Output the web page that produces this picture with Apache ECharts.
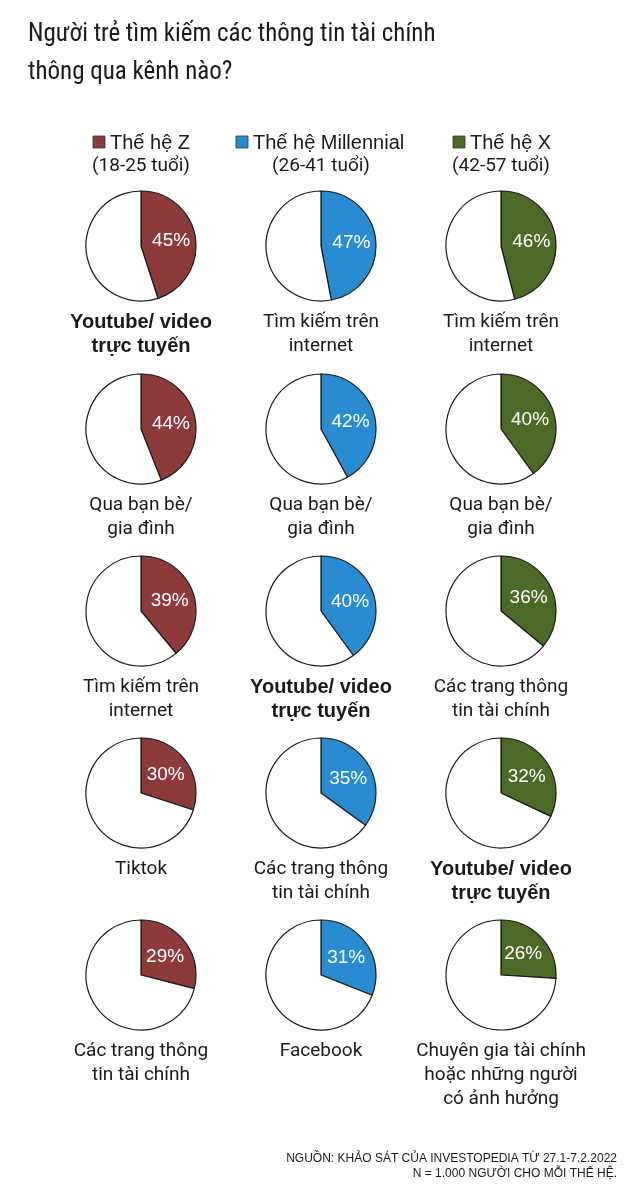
<!DOCTYPE html>
<html>
<head>
<meta charset="utf-8">
<script src="https://cdn.jsdelivr.net/npm/echarts@6/dist/echarts.min.js"></script>
<style>
html,body{margin:0;padding:0;background:#fff;}
#c{width:644px;height:1184px;}
</style>
</head>
<body>
<div id="c"></div>
<script>
const generations = ['Thế hệ Z', 'Thế hệ Millennial', 'Thế hệ X'];
const ageRanges = ['(18-25 tuổi)', '(26-41 tuổi)', '(42-57 tuổi)'];
const colors = ['#8c3a3a', '#2a8cd0', '#4b6a26'];

const genZCategories = ['Youtube/ video\ntrực tuyến', 'Qua bạn bè/\ngia đình', 'Tìm kiếm trên\ninternet', 'Tiktok', 'Các trang thông\ntin tài chính'];
const genZValues = [45, 44, 39, 30, 29];

const millennialCategories = ['Tìm kiếm trên\ninternet', 'Qua bạn bè/\ngia đình', 'Youtube/ video\ntrực tuyến', 'Các trang thông\ntin tài chính', 'Facebook'];
const millennialValues = [47, 42, 40, 35, 31];

const genXCategories = ['Tìm kiếm trên\ninternet', 'Qua bạn bè/\ngia đình', 'Các trang thông\ntin tài chính', 'Youtube/ video\ntrực tuyến', 'Chuyên gia tài chính\nhoặc những người\ncó ảnh hưởng'];
const genXValues = [46, 40, 36, 32, 26];

const highlightCategory = 'Youtube/ video\ntrực tuyến';

const titleText = 'Người trẻ tìm kiếm các thông tin tài chính\nthông qua kênh nào?';
const sourceText = 'NGUỒN: KHẢO SÁT CỦA INVESTOPEDIA TỪ 27.1-7.2.2022\nN = 1.000 NGƯỜI CHO MỖI THẾ HỆ.';

const FONT = 'Roboto, "Liberation Sans", sans-serif';
const FONT2 = '"Liberation Sans", Arial, sans-serif';
const FONTN = '"Liberation Sans Narrow", "Roboto Condensed", Roboto, sans-serif';
const colX = [141, 321, 501];
const rowY = [246, 429, 611, 793, 975];
const R = 55;

const allCats = [genZCategories, millennialCategories, genXCategories];
const allVals = [genZValues, millennialValues, genXValues];

const series = [];
const graphics = [];

for (let c = 0; c < 3; c++) {
  for (let r = 0; r < 5; r++) {
    const v = allVals[c][r];
    series.push({
      type: 'pie',
      name: allCats[c][r],
      center: [colX[c], rowY[r]],
      radius: R,
      startAngle: 90,
      clockwise: true,
      silent: true,
      animation: false,
      label: {
        show: true,
        position: 'inside',
        formatter: '{c}%',
        color: '#fff',
        fontFamily: FONT2,
        fontSize: 19
      },
      labelLine: {show: false},
      emphasis: {disabled: true},
      itemStyle: {borderColor: '#1a1a1a', borderWidth: 1.2},
      data: [
        {name: allCats[c][r], value: v, itemStyle: {color: colors[c]}},
        {name: 'rest', value: 100 - v, itemStyle: {color: '#fff'}, label: {show: false}}
      ]
    });
    const isBold = allCats[c][r] === highlightCategory;
    graphics.push({
      type: 'text',
      x: colX[c],
      y: rowY[r] + 64,
      style: {
        text: allCats[c][r],
        textAlign: 'center',
        textVerticalAlign: 'top',
        fill: '#1a1a1a',
        font: isBold ? ('bold 20px ' + FONT2) : ('19px ' + FONT),
        lineHeight: 24
      }
    });
  }
  // legend
  graphics.push({
    type: 'rect',
    shape: {x: colX[c] - (c === 1 ? 85 : 48), y: 136, width: 12, height: 12},
    style: {fill: colors[c], stroke: '#333', lineWidth: 0.8}
  });
  graphics.push({
    type: 'text',
    x: colX[c] - (c === 1 ? 85 : 48) + 17,
    y: 143,
    style: {
      text: generations[c],
      textAlign: 'left',
      textVerticalAlign: 'middle',
      fill: '#1a1a1a',
      font: '20px ' + FONT2
    }
  });
  graphics.push({
    type: 'text',
    x: colX[c],
    y: 166,
    style: {
      text: ageRanges[c],
      textAlign: 'center',
      textVerticalAlign: 'middle',
      fill: '#1a1a1a',
      font: '19px ' + FONT
    }
  });
}

graphics.push({
  type: 'text',
  x: 28, y: 16,
  style: {
    text: titleText,
    textAlign: 'left',
    textVerticalAlign: 'top',
    fill: '#1a1a1a',
    font: '25px ' + FONTN,
    lineHeight: 38
  }
});
graphics.push({
  type: 'text',
  x: 617, y: 1151,
  style: {
    text: sourceText,
    textAlign: 'right',
    textVerticalAlign: 'top',
    fill: '#1a1a1a',
    font: '12px ' + FONT2,
    lineHeight: 15
  }
});

const chart = echarts.init(document.getElementById('c'), null, {renderer: 'canvas'});
chart.setOption({
  backgroundColor: '#fff',
  animation: false,
  series: series,
  graphic: graphics
});
</script>
</body>
</html>
